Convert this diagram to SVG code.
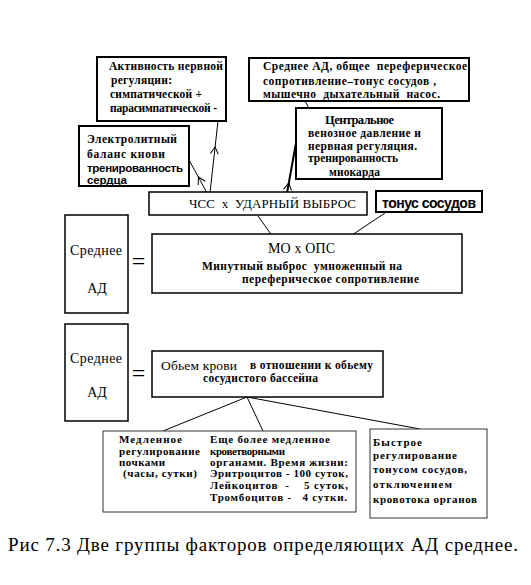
<svg xmlns="http://www.w3.org/2000/svg" width="531" height="585" viewBox="0 0 531 585">
<style>
.b{fill:#fff;stroke:#000}
.t2{stroke-width:2}
.t15{stroke-width:1.5}
.t1{stroke-width:1;stroke:#333}
.sb{font-family:"Liberation Serif","Times New Roman",serif;font-weight:bold;font-size:11.5px;fill:#000}
.sr{font-family:"Liberation Serif","Times New Roman",serif;font-size:14px;fill:#000}
.ab{font-family:"Liberation Sans",Arial,sans-serif;font-weight:bold;font-size:11.5px;fill:#000}
.c{fill:none;stroke:#000;stroke-width:1}
</style>
<defs>
<marker id="ah" markerUnits="userSpaceOnUse" markerWidth="12" markerHeight="12" refX="0" refY="0" viewBox="-8 -6 10 12" orient="auto" overflow="visible">
<path d="M-7,-4 L0,0 L-7,4" fill="none" stroke="#000" stroke-width="1"/>
</marker>
</defs>
<rect width="531" height="585" fill="#fff"/>

<g id="connectors">
<path class="c" d="M210,193 L215.1,147 L218,121" marker-mid="url(#ah)"/>
<path class="c" d="M207,193 L198.4,177 L189,160" marker-mid="url(#ah)"/>
<path class="c" d="M287,193 L288.8,183 L296,143" style="stroke-width:2" marker-mid="url(#ah)"/>
<path class="c" d="M317,123 L312.6,115 L305,101" marker-mid="url(#ah)"/>
<path class="c" d="M258,216 L278,244"/>
<path class="c" d="M385,213 L337,245"/>
<path class="c" d="M247,397 L163,431"/>
<path class="c" d="M247,397 L263,431"/>
<path class="c" d="M247,397 L420,429"/>
</g>

<g id="aktivnost">
<rect class="b t2" x="97" y="57" width="129" height="64"/>
<text class="sb" x="109" y="70" textLength="114">Активность нервной</text>
<text class="sb" x="111" y="84" textLength="61">регуляции:</text>
<text class="sb" x="110" y="98" textLength="92">симпатической +</text>
<text class="sb" x="110" y="112" textLength="107">парасимпатической -</text>
</g>

<g id="elektrolit">
<rect class="b t2" x="79" y="126" width="110" height="60"/>
<text class="sb" x="87" y="143" textLength="90">Электролитный</text>
<text class="sb" x="87" y="158" textLength="78">баланс кнови</text>
<text class="ab" x="87" y="172" textLength="96">тренированность</text>
<text class="ab" x="87" y="184" textLength="40">сердца</text>
</g>

<g id="srednee-ad-top">
<rect class="b t2" x="249" y="58" width="220" height="43"/>
<text class="sb" x="263" y="70" textLength="204" xml:space="preserve">Среднее АД, общее  переферическое</text>
<text class="sb" x="263" y="85" textLength="173">сопротивление–тонус сосудов ,</text>
<text class="sb" x="263" y="98" textLength="177" xml:space="preserve">мышечно  дыхательный  насос.</text>
</g>

<g id="centralnoe">
<rect class="b t2" x="296" y="108" width="146" height="71"/>
<text class="sb" x="325" y="124" textLength="69" style="font-size:12.5px">Центральное</text>
<text class="sb" x="308" y="137" textLength="113">венозное давление и</text>
<text class="sb" x="308" y="150" textLength="109">нервная регуляция.</text>
<text class="sb" x="308" y="162" textLength="90">тренированность</text>
<text class="sb" x="329" y="176" textLength="51">миокарда</text>
</g>

<g id="chss">
<rect class="b t15" x="149" y="192" width="218" height="23"/>
<text class="sr" x="189" y="208" textLength="167" style="font-size:13px" xml:space="preserve">ЧСС  х  УДАРНЫЙ ВЫБРОС</text>
</g>

<g id="tonus">
<rect class="b t2" x="376" y="191" width="106" height="21"/>
<text class="ab" x="382" y="208" textLength="94" style="font-size:14px">тонус сосудов</text>
</g>

<g id="srednee-ad-1">
<rect class="b t15" x="65" y="215" width="63" height="98"/>
<text class="sr" x="70" y="255" textLength="52">Среднее</text>
<text class="sr" x="97" y="293" text-anchor="middle">АД</text>
<text class="sr" x="138.5" y="269" text-anchor="middle" style="font-size:24px">=</text>
</g>

<g id="mo-ops">
<rect class="b t15" x="152" y="234" width="310" height="59"/>
<text class="sr" x="268" y="253" textLength="67">МО х ОПС</text>
<text class="sb" x="202" y="270" textLength="200" xml:space="preserve">Минутный выброс  умноженный на</text>
<text class="sb" x="242" y="283" textLength="177">переферическое сопротивление</text>
</g>

<g id="srednee-ad-2">
<rect class="b t15" x="65" y="324" width="63" height="97"/>
<text class="sr" x="70" y="363" textLength="52">Среднее</text>
<text class="sr" x="97" y="397" text-anchor="middle">АД</text>
<text class="sr" x="138.5" y="381" text-anchor="middle" style="font-size:24px">=</text>
</g>

<g id="obem">
<rect class="b t15" x="152" y="351" width="231" height="46"/>
<text class="sr" x="161" y="370" textLength="76" style="font-size:13.5px">Обьем крови</text>
<text class="sb" x="250" y="369" textLength="123">в отношении к обьему</text>
<text class="sb" x="203" y="382" textLength="115">сосудистого бассейна</text>
</g>

<g id="medlennoe">
<rect class="b t1" x="103" y="431" width="253" height="81"/>
<g class="sb" style="font-size:11px">
<text x="119" y="443" textLength="63">Медленное</text>
<text x="119" y="455" textLength="81">регулирование</text>
<text x="119" y="466" textLength="46">почками</text>
<text x="123" y="477" textLength="74">(часы, сутки)</text>
<text x="210" y="443" textLength="120">Еще более медленное</text>
<text x="210" y="455" textLength="75">кроветворными</text>
<text x="210" y="466" textLength="138">органами. Время жизни:</text>
<text x="210" y="477" textLength="138">Эритроцитов - 100 суток,</text>
<text x="210" y="489" textLength="138" xml:space="preserve">Лейкоцитов  -    5 суток,</text>
<text x="210" y="501" textLength="137" xml:space="preserve">Тромбоцитов -   4 сутки.</text>
</g>
</g>

<g id="bystroe">
<rect class="b t1" x="370" y="429" width="117" height="89"/>
<g class="sb" style="font-size:11px">
<text x="373" y="446" textLength="49">Быстрое</text>
<text x="373" y="459" textLength="84">регулирование</text>
<text x="373" y="473" textLength="94">тонусом сосудов,</text>
<text x="373" y="488" textLength="79">отключением</text>
<text x="373" y="503" textLength="104">кровотока органов</text>
</g>
</g>

<g id="caption">
<text class="sr" x="8" y="551" textLength="510" style="font-size:19px">Рис 7.3 Две группы факторов определяющих АД среднее.</text>
</g>
</svg>
